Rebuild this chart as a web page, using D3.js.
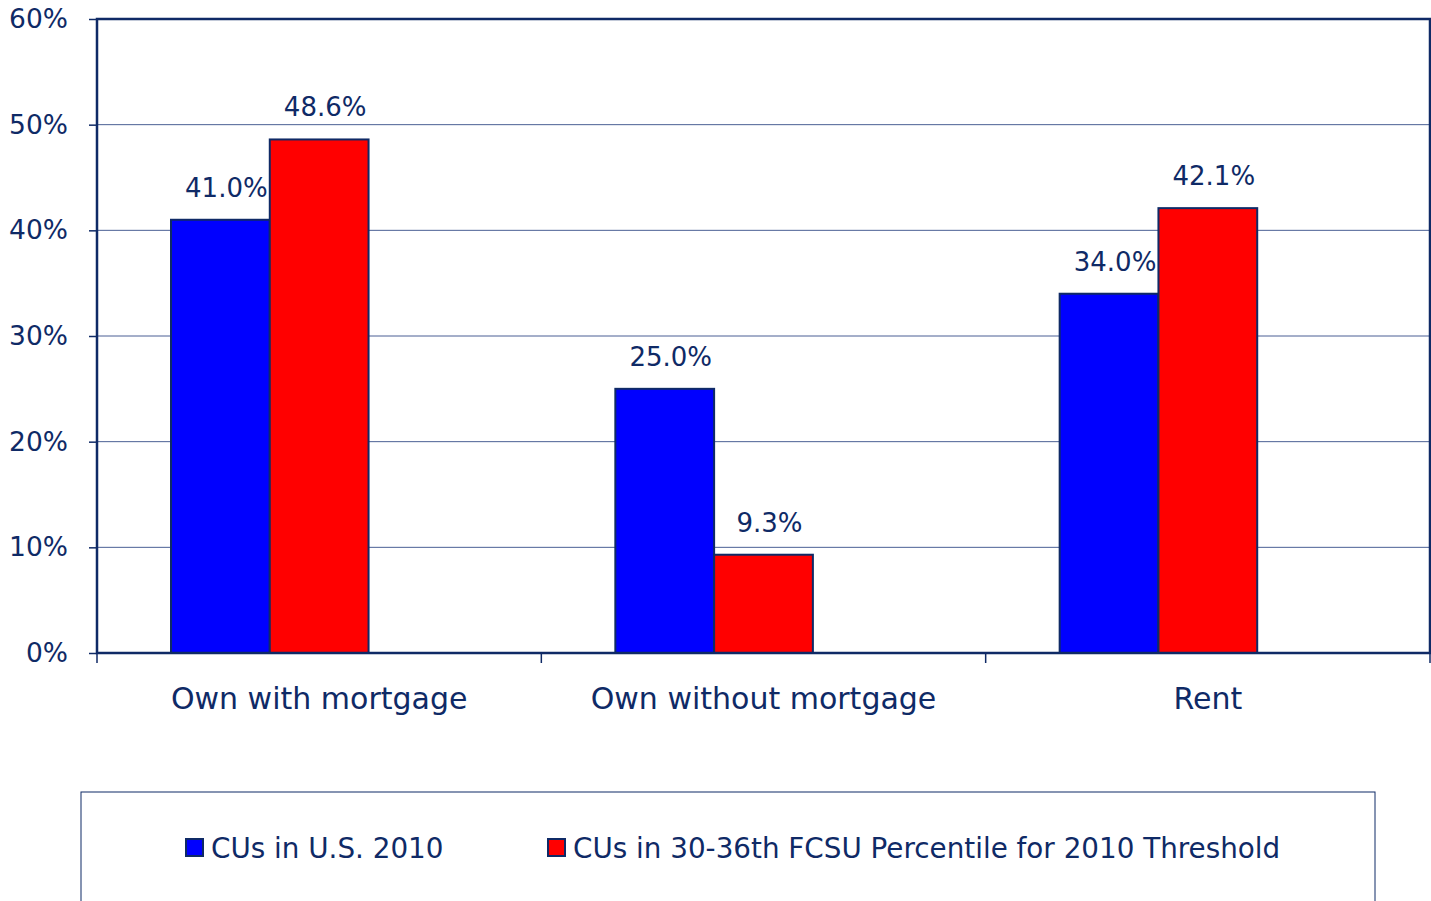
<!DOCTYPE html>
<html lang="en">
<head>
  <meta charset="UTF-8">
  <title>Housing tenure</title>
  <script src="https://d3js.org/d3.v7.min.js"></script>
  <style>
    body { margin: 0; background: #fff; font-family: "DejaVu Sans", sans-serif; }
    text { fill: #0f2a66; }
    .grid line { stroke: #4a5f94; stroke-width: 1px; }
  </style>
</head>
<body>
  <svg id="viz" width="1431" height="901"></svg>

  <script>
    const categories = ["Own with mortgage", "Own without mortgage", "Rent"];
    const seriesNames = ["CUs in U.S. 2010", "CUs in 30-36th FCSU Percentile for 2010 Threshold"];
    const usValues = [41.0, 25.0, 34.0];
    const fcsuValues = [48.6, 9.3, 42.1];
    const yTicks = [0, 10, 20, 30, 40, 50, 60];
    const colors = ["#0000ff", "#ff0000"];
    const navy = "#0f2a66";

    const svg = d3.select("#viz"),
          margin = { top: 19, right: 1, bottom: 248, left: 97 },
          width = 1431 - margin.left - margin.right,
          height = 901 - margin.top - margin.bottom;

    const g = svg.append("g").attr("transform", `translate(${margin.left},${margin.top})`);

    const x0 = d3.scaleBand().domain(categories).range([0, width]).paddingInner(0).paddingOuter(0);
    // three slots per category: the third one is an empty series in the original
    const x1 = d3.scaleBand().domain([0, 1, 2]).range([74, x0.bandwidth() - 74]);
    const y = d3.scaleLinear().domain([0, 60]).range([height, 0]);

    // gridlines
    g.append("g").attr("class", "grid")
      .selectAll("line")
      .data(yTicks.filter(d => d > 0 && d < 60))
      .enter().append("line")
      .attr("x1", 0).attr("x2", width)
      .attr("y1", d => y(d)).attr("y2", d => y(d));

    // bars
    const rows = categories.map((c, i) => ({ cat: c, vals: [usValues[i], fcsuValues[i]] }));
    const groups = g.selectAll(".grp").data(rows).enter().append("g")
      .attr("transform", d => `translate(${x0(d.cat)},0)`);

    groups.selectAll("rect")
      .data(d => d.vals.map((v, i) => ({ v, i })))
      .enter().append("rect")
      .attr("x", d => x1(d.i))
      .attr("y", d => y(d.v))
      .attr("width", x1.bandwidth())
      .attr("height", d => height - y(d.v))
      .attr("fill", d => colors[d.i])
      .attr("stroke", navy)
      .attr("stroke-width", 2);

    groups.selectAll(".lbl")
      .data(d => d.vals.map((v, i) => ({ v, i })))
      .enter().append("text")
      .attr("x", d => x1(d.i) + x1.bandwidth() / 2 + 6)
      .attr("y", d => y(d.v) - 23)
      .attr("text-anchor", "middle")
      .style("font-size", "26px")
      .text(d => d.v.toFixed(1) + "%");

    // plot frame
    g.append("rect")
      .attr("x", 0).attr("y", 0).attr("width", width).attr("height", height)
      .attr("fill", "none").attr("stroke", navy).attr("stroke-width", 2.5);

    // y axis
    const yAxis = g.append("g")
      .call(d3.axisLeft(y).tickValues(yTicks).tickFormat(d => d + "%").tickSize(8).tickPadding(21));
    yAxis.select(".domain").remove();
    yAxis.selectAll("line").attr("stroke", navy).attr("stroke-width", 1.5);
    yAxis.selectAll("text").style("font-size", "26.5px").attr("fill", navy)
      .attr("font-family", "DejaVu Sans");

    // x axis ticks at category boundaries
    const xAxis = g.append("g").attr("transform", `translate(0,${height})`);
    xAxis.selectAll("line")
      .data(d3.range(categories.length + 1))
      .enter().append("line")
      .attr("x1", d => d * x0.step()).attr("x2", d => d * x0.step())
      .attr("y1", 0).attr("y2", 10)
      .attr("stroke", navy).attr("stroke-width", 1.5);
    xAxis.selectAll("text")
      .data(categories)
      .enter().append("text")
      .attr("x", d => x0(d) + x0.bandwidth() / 2)
      .attr("y", 56)
      .attr("text-anchor", "middle")
      .style("font-size", "30px")
      .text(d => d);

    // legend
    const legend = svg.append("g");
    legend.append("rect")
      .attr("x", 81).attr("y", 792).attr("width", 1294).attr("height", 140)
      .attr("fill", "#fff").attr("stroke", navy).attr("stroke-width", 1);
    const legendX = [186, 548];
    seriesNames.forEach((name, i) => {
      legend.append("rect")
        .attr("x", legendX[i]).attr("y", 839).attr("width", 17).attr("height", 17)
        .attr("fill", colors[i]).attr("stroke", navy).attr("stroke-width", 2);
      legend.append("text")
        .attr("x", legendX[i] + 25).attr("y", 858)
        .style("font-size", "27.8px")
        .text(name);
    });
  </script>
</body>
</html>
